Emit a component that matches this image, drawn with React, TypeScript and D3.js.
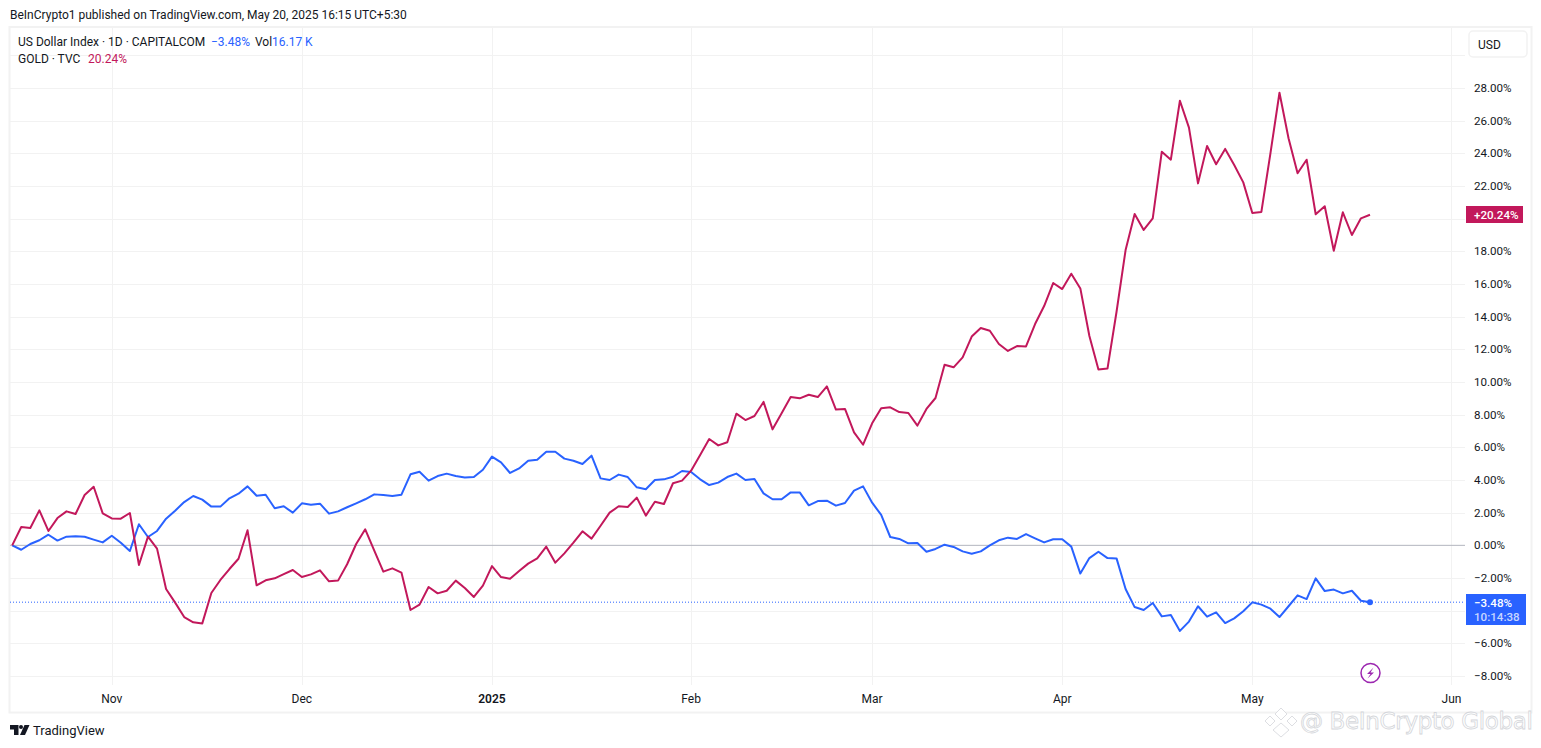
import * as d3 from "d3"

const WIDTH = 1541
const HEIGHT = 748
const FONT = "Roboto, sans-serif"

const BLUE = "#2962ff"
const RED = "#c2185b"
const TEXT = "#131722"
const GRID = "#f2f2f2"

// % change per trading day
const goldValues = [
  0, 1.12, 1.06, 2.14, 0.88, 1.67, 2.08, 1.92, 3.08, 3.59,
  1.96, 1.65, 1.63, 1.98, -1.2, 0.53, -0.2, -2.67, -3.51, -4.39,
  -4.71, -4.78, -2.92, -2.12, -1.45, -0.82, 0.92, -2.45, -2.14, -2.02,
  -1.76, -1.51, -1.94, -1.78, -1.53, -2.2, -2.16, -1.16, 0.08, 0.98,
  -0.33, -1.61, -1.41, -1.67, -3.96, -3.63, -2.55, -2.94, -2.78, -2.16,
  -2.61, -3.16, -2.47, -1.27, -1.94, -2.04, -1.57, -1.12, -0.8, -0.08,
  -1.06, -0.49, 0.16, 0.86, 0.41, 1.2, 2.0, 2.39, 2.35, 2.92,
  1.82, 2.67, 2.53, 3.8, 3.96, 4.57, 5.53, 6.51, 6.12, 6.31,
  8.06, 7.67, 7.92, 8.78, 7.1, 8.08, 9.08, 9.0, 9.22, 9.08,
  9.73, 8.31, 8.35, 6.92, 6.16, 7.47, 8.39, 8.45, 8.16, 8.1,
  7.33, 8.35, 9.02, 11.06, 10.9, 11.51, 12.78, 13.31, 13.14, 12.33,
  11.9, 12.2, 12.18, 13.55, 14.65, 16.06, 15.69, 16.63, 15.73, 12.82,
  10.76, 10.82, 14.3, 18.08, 20.29, 19.31, 20.02, 24.1, 23.61, 27.22,
  25.57, 22.16, 24.45, 23.33, 24.27, 23.29, 22.22, 20.35, 20.41, 24.0,
  27.71, 24.92, 22.78, 23.61, 20.27, 20.76, 18.04, 20.39, 19.0, 20.02,
  20.24,
]

const dollarValues = [
  0, -0.27, 0.08, 0.31, 0.65, 0.29, 0.53, 0.55, 0.53, 0.35,
  0.18, 0.59, 0.16, -0.35, 1.29, 0.51, 0.88, 1.63, 2.12, 2.65,
  3.02, 2.8, 2.37, 2.37, 2.88, 3.16, 3.61, 3.04, 3.1, 2.27,
  2.39, 2.0, 2.57, 2.49, 2.55, 1.94, 2.08, 2.33, 2.57, 2.82,
  3.12, 3.08, 3.02, 3.1, 4.35, 4.51, 3.96, 4.24, 4.39, 4.24,
  4.16, 4.18, 4.63, 5.43, 5.08, 4.43, 4.71, 5.18, 5.24, 5.73,
  5.73, 5.31, 5.18, 4.98, 5.49, 4.1, 4.0, 4.33, 4.18, 3.55,
  3.43, 4.0, 4.04, 4.2, 4.55, 4.49, 4.04, 3.69, 3.84, 4.18,
  4.39, 4.0, 4.06, 3.18, 2.82, 2.82, 3.24, 3.24, 2.45, 2.71,
  2.73, 2.43, 2.59, 3.35, 3.61, 2.61, 1.86, 0.51, 0.39, 0.12,
  0.14, -0.39, -0.22, 0.04, -0.1, -0.37, -0.51, -0.37, 0, 0.31,
  0.47, 0.39, 0.69, 0.43, 0.18, 0.37, 0.37, -0.08, -1.73, -0.78,
  -0.39, -0.78, -0.8, -2.67, -3.78, -3.96, -3.53, -4.35, -4.27, -5.24,
  -4.67, -3.73, -4.37, -4.1, -4.76, -4.47, -4.04, -3.49, -3.63, -3.88,
  -4.39, -3.73, -3.06, -3.29, -2.02, -2.8, -2.71, -2.94, -2.78, -3.39,
  -3.48,
]

const monthLabels = ["Nov", "Dec", "2025", "Feb", "Mar", "Apr", "May", "Jun"]
const monthIndex = [11, 32, 53, 75, 95, 116, 137, 159]
// 20% and -4% sit behind the last value badges, so they get no label
const labelTicks = [-8, -6, -2, 0, 2, 4, 6, 8, 10, 12, 14, 16, 18, 22, 24, 26, 28]
const gridTicks = [-8, -6, -4, -2, 2, 4, 6, 8, 10, 12, 14, 16, 18, 20, 22, 24, 26, 28, 30]

const x = d3.scaleLinear().domain([0, 150]).range([12.2, 1370])
const y = d3.scaleLinear().domain([-8, 28]).range([676, 88])

const line = d3.line<number>().x((_, i) => x(i)).y((d) => y(d))

const fmt = (v: number) => (v < 0 ? "\u2212" : "") + Math.abs(v).toFixed(2) + "%"

const lastGold = goldValues[goldValues.length - 1]
const lastDollar = dollarValues[dollarValues.length - 1]

export default function App() {
  return (
    <svg
      width={WIDTH}
      height={HEIGHT}
      style={{ position: "absolute", left: 0, top: 0, background: "#fff" }}
      fontFamily={FONT}
      fontSize={12}
      fill={TEXT}
    >
      <text x={10} y={18.5} fontSize={12}>BeInCrypto1 published on TradingView.com, May 20, 2025 16:15 UTC+5:30</text>

      {/* frame */}
      <rect x={9.5} y={27} width={1522} height={685.5} fill="none" stroke={GRID} strokeWidth={2} />

      {/* grid */}
      {gridTicks.map((t) => (
        <line key={t} x1={10} x2={1465} y1={Math.round(y(t)) + 0.5} y2={Math.round(y(t)) + 0.5} stroke={GRID} />
      ))}
      {monthIndex.map((m) => (
        <line key={m} x1={Math.round(x(m)) + 0.5} x2={Math.round(x(m)) + 0.5} y1={28} y2={685} stroke={GRID} />
      ))}
      <line x1={10} x2={1465} y1={y(0)} y2={y(0)} stroke="#b2b5be" />

      {/* last value line */}
      <line x1={10} x2={1465} y1={y(lastDollar)} y2={y(lastDollar)} stroke={BLUE} strokeDasharray="1 2" />

      <path d={line(dollarValues) as string} fill="none" stroke={BLUE} strokeWidth={2} strokeLinejoin="round" />
      <path d={line(goldValues) as string} fill="none" stroke={RED} strokeWidth={2} strokeLinejoin="round" />
      <circle cx={x(150)} cy={y(lastDollar)} r={3} fill={BLUE} />

      {/* legend */}
      <text x={18} y={46}>US Dollar Index · 1D · CAPITALCOM</text>
      <text x={211} y={46} fill={BLUE}>{fmt(lastDollar)}</text>
      <text x={255} y={46}>Vol</text>
      <text x={272} y={46} fill={BLUE}>16.17 K</text>
      <text x={18} y={63}>GOLD · TVC</text>
      <text x={88} y={63} fill={RED}>{lastGold.toFixed(2)}%</text>

      {/* price axis */}
      <rect x={1469} y={31} width={58} height={26} rx={4} fill="#fff" stroke={GRID} strokeWidth={1.5} />
      <text x={1478} y={49}>USD</text>
      {labelTicks.map((t) => (
        <text key={t} x={1474} y={y(t) + 4} fontSize={11.6}>{fmt(t)}</text>
      ))}

      <rect x={1466} y={206} width={57} height={17} fill={RED} />
      <text x={1474} y={218.5} fill="#fff" fontSize={11.6} fontWeight={500}>+{lastGold.toFixed(2)}%</text>
      <rect x={1466} y={594} width={60} height={31} fill={BLUE} />
      <text x={1474} y={607} fill="#fff" fontSize={11.6} fontWeight={500}>{fmt(lastDollar)}</text>
      <text x={1474} y={621} fill="#fff" fillOpacity={0.75} fontSize={11.6} fontWeight={500}>10:14:38</text>

      {/* time axis */}
      {monthLabels.map((m, i) => (
        <text
          key={m}
          x={x(monthIndex[i])}
          y={703}
          textAnchor="middle"
          fontWeight={m === "2025" ? 600 : 400}
        >
          {m}
        </text>
      ))}

      {/* bolt */}
      <circle cx={1370.5} cy={673} r={9.5} fill="#fff" stroke="#9c27b0" strokeWidth={1.5} />
      <path d="M1373.5 667.5 L1367 674 L1370.5 674 L1367.5 678.5 L1374 672.5 L1370.5 672.5 Z" fill="#9c27b0" />

      {/* footer logo */}
      <path d="M10 725 H18.5 V735 H14 V729.5 H10 Z" fill={TEXT} />
      <circle cx={21} cy={727} r={2} fill={TEXT} />
      <path d="M24.5 725 H29.5 L25 735 H20 Z" fill={TEXT} />
      <text x={33} y={735} fontSize={13}>TradingView</text>

      {/* watermark */}
      <g fill="#fff" stroke="#d4d6da" strokeWidth={0.8}>
        <path d="M1281 708 L1287 714 L1281 720 L1275 714 Z" />
        <path d="M1270 716 L1275 721 L1270 726 L1265 721 Z" />
        <path d="M1292 716 L1297 721 L1292 726 L1287 721 Z" />
        <path d="M1281 723 L1289 730 L1281 737 L1273 730 Z" />
        <text x={1300} y={729} fontSize={23} fontFamily="'DejaVu Sans', sans-serif" textLength={233}>@ BeInCrypto Global</text>
      </g>
    </svg>
  )
}
